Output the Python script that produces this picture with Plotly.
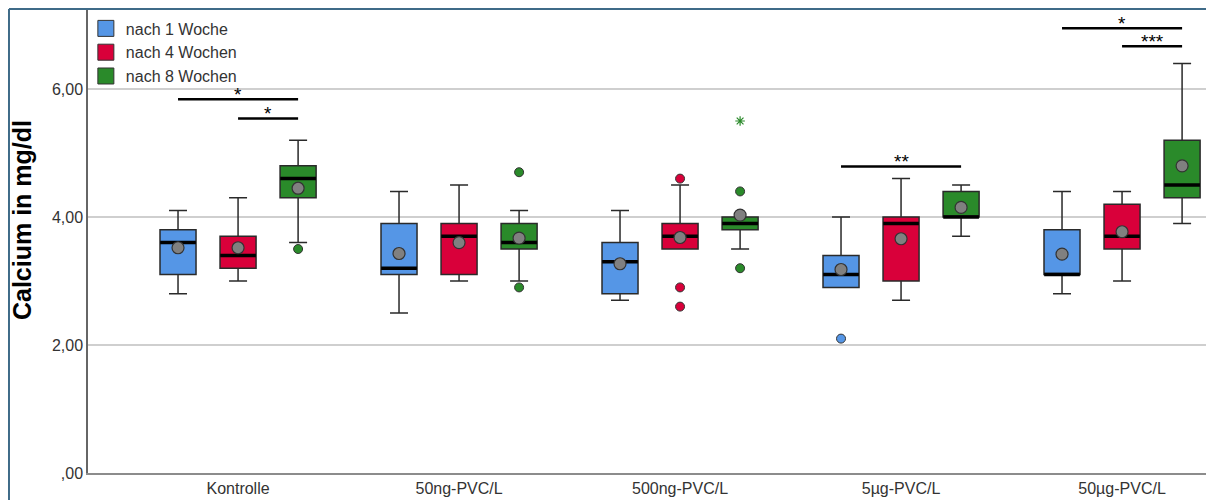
import plotly.graph_objects as go

# ---------------- data ----------------
categories = ["Kontrolle", "50ng-PVC/L", "500ng-PVC/L", "5µg-PVC/L", "50µg-PVC/L"]
series_names = ["nach 1 Woche", "nach 4 Wochen", "nach 8 Wochen"]

lower_w1 = [2.8, 2.5, 2.7, 2.9, 2.8]
q1_w1 = [3.1, 3.1, 2.8, 2.9, 3.1]
median_w1 = [3.6, 3.2, 3.3, 3.1, 3.1]
q3_w1 = [3.8, 3.9, 3.6, 3.4, 3.8]
upper_w1 = [4.1, 4.4, 4.1, 4.0, 4.4]
mean_w1 = [3.52, 3.43, 3.27, 3.18, 3.42]
out_x_w1 = ["5µg-PVC/L"]
out_y_w1 = [2.1]

lower_w4 = [3.0, 3.0, 3.5, 2.7, 3.0]
q1_w4 = [3.2, 3.1, 3.5, 3.0, 3.5]
median_w4 = [3.4, 3.7, 3.7, 3.9, 3.7]
q3_w4 = [3.7, 3.9, 3.9, 4.0, 4.2]
upper_w4 = [4.3, 4.5, 4.5, 4.6, 4.4]
mean_w4 = [3.52, 3.60, 3.68, 3.66, 3.77]
out_x_w4 = ["500ng-PVC/L", "500ng-PVC/L", "500ng-PVC/L"]
out_y_w4 = [4.6, 2.9, 2.6]

lower_w8 = [3.6, 3.0, 3.5, 3.7, 3.9]
q1_w8 = [4.3, 3.5, 3.8, 4.0, 4.3]
median_w8 = [4.6, 3.6, 3.9, 4.0, 4.5]
q3_w8 = [4.8, 3.9, 4.0, 4.4, 5.2]
upper_w8 = [5.2, 4.1, 4.0, 4.5, 6.4]
mean_w8 = [4.45, 3.67, 4.03, 4.15, 4.80]
out_x_w8 = ["Kontrolle", "50ng-PVC/L", "50ng-PVC/L", "500ng-PVC/L", "500ng-PVC/L"]
out_y_w8 = [3.5, 4.7, 2.9, 4.4, 3.2]
ext_x_w8 = ["500ng-PVC/L"]
ext_y_w8 = [5.5]

# significance brackets: category, from series, to series, level, label
sig_category = ["Kontrolle", "Kontrolle", "5µg-PVC/L", "50µg-PVC/L", "50µg-PVC/L"]
sig_from = [0, 1, 0, 0, 1]
sig_to = [2, 2, 2, 2, 2]
sig_level = [5.84, 5.54, 4.79, 6.95, 6.67]
sig_label = ["*", "*", "**", "*", "***"]

ytick_vals = [0, 2, 4, 6]
ytick_text = [",00", "2,00", "4,00", "6,00"]
y_title = "Calcium in mg/dl"

# ---------------- style ----------------
colors = ["#5596E6", "#D9003A", "#2A8A2A"]
BOXGAP = 0.185
GROUPGAP = 0.4
FONT = "Liberation Sans, Arial, sans-serif"

stats = [
    (lower_w1, q1_w1, median_w1, q3_w1, upper_w1, mean_w1, out_x_w1, out_y_w1, [], []),
    (lower_w4, q1_w4, median_w4, q3_w4, upper_w4, mean_w4, out_x_w4, out_y_w4, [], []),
    (lower_w8, q1_w8, median_w8, q3_w8, upper_w8, mean_w8, out_x_w8, out_y_w8, ext_x_w8, ext_y_w8),
]

fig = go.Figure()
for i, (lo, q1, med, q3, up, mn, ox, oy, ex, ey) in enumerate(stats):
    og = f"s{i}"
    fig.add_trace(go.Box(
        x=categories, q1=q1, median=med, q3=q3, lowerfence=lo, upperfence=up,
        name=series_names[i], offsetgroup=og, showlegend=False,
        fillcolor=colors[i], line=dict(color="#2a2a2a", width=1.5),
        whiskerwidth=0.5, boxpoints=False, hoverinfo="skip",
    ))
    # thick median line
    fig.add_trace(go.Scatter(
        x=categories, y=med, mode="markers", offsetgroup=og, showlegend=False,
        marker=dict(symbol="line-ew", size=25.5, line=dict(color="#000000", width=3.5)),
        hoverinfo="skip",
    ))
    # outliers
    if ox:
        fig.add_trace(go.Scatter(
            x=ox, y=oy, mode="markers", offsetgroup=og, showlegend=False,
            marker=dict(symbol="circle", size=9, color=colors[i], line=dict(color="#333333", width=1)),
        ))
    if ex:
        fig.add_trace(go.Scatter(
            x=ex, y=ey, mode="markers", offsetgroup=og, showlegend=False,
            marker=dict(symbol="asterisk-open", size=8, color=colors[i],
                        line=dict(color=colors[i], width=1.2)),
        ))
    # means
    fig.add_trace(go.Scatter(
        x=categories, y=mn, mode="markers", offsetgroup=og, showlegend=False,
        marker=dict(symbol="circle", size=12, color="#808080", line=dict(color="#333333", width=1.2)),
    ))
    # legend entry
    fig.add_trace(go.Scatter(
        x=[None], y=[None], mode="markers", name=series_names[i], offsetgroup=og,
        marker=dict(symbol="square", size=16, color=colors[i], line=dict(color="#333333", width=1)),
    ))

slot = (1 - BOXGAP) / 3
shapes = []
annotations = []
for cat, a, b, lev, lab in zip(sig_category, sig_from, sig_to, sig_level, sig_label):
    c = categories.index(cat)
    x0 = c + (a - 1) * slot
    x1 = c + (b - 1) * slot
    shapes.append(dict(type="line", xref="x", yref="y", x0=x0, x1=x1, y0=lev, y1=lev,
                       line=dict(color="#000000", width=2.5)))
    annotations.append(dict(x=(x0 + x1) / 2, y=lev, xref="x", yref="y", text=lab,
                            showarrow=False, yanchor="bottom", yshift=-8,
                            font=dict(family=FONT, size=19, color="#000000")))

# y-axis title (rotated text, slightly above the plot centre as in the reference)
annotations.append(dict(x=-0.0587, y=0.544, xref="paper", yref="paper", text=f"<b>{y_title}</b>",
                        textangle=-90, showarrow=False, xanchor="center", yanchor="middle",
                        font=dict(family=FONT, size=25, color="#000000")))

# outer frame (top and left edges)
shapes.append(dict(type="line", xref="paper", yref="paper", x0=-0.0703, x1=1.002, y0=0.998, y1=0.998,
                   line=dict(color="#3F6B88", width=2)))
shapes.append(dict(type="line", xref="paper", yref="paper", x0=-0.0703, x1=-0.0703, y0=-0.058, y1=0.998,
                   line=dict(color="#3F6B88", width=2)))

fig.update_layout(
    width=1206, height=495,
    margin=dict(l=80, r=2, t=0, b=30, autoexpand=False),
    paper_bgcolor="white", plot_bgcolor="white",
    boxmode="group", boxgap=BOXGAP, boxgroupgap=GROUPGAP,
    scattermode="group", scattergap=BOXGAP,
    font=dict(family=FONT, color="#333333"),
    showlegend=True,
    legend=dict(x=-0.0019, y=0.9925, xanchor="left", yanchor="top", bgcolor="rgba(0,0,0,0)",
                font=dict(family=FONT, size=16, color="#333333"), itemsizing="trace",
                tracegroupgap=0, itemwidth=30),
    shapes=shapes, annotations=annotations,
)
fig.update_xaxes(
    type="category", categoryorder="array", categoryarray=categories,
    range=[-0.679, 4.407], showgrid=False, zeroline=False, automargin=False,
    showline=True, linecolor="#8c8c8c", linewidth=2,
    tickfont=dict(family=FONT, size=16, color="#333333"), ticks="",
)
fig.update_yaxes(
    range=[0, 7.266], tickvals=ytick_vals, ticktext=ytick_text, automargin=False,
    showgrid=True, gridcolor="#cfcfcf", gridwidth=1.5, zeroline=False,
    showline=True, linecolor="#666666", linewidth=1.5, ticks="",
    tickfont=dict(family=FONT, size=16, color="#333333"),
)

fig.write_html("out.html")
